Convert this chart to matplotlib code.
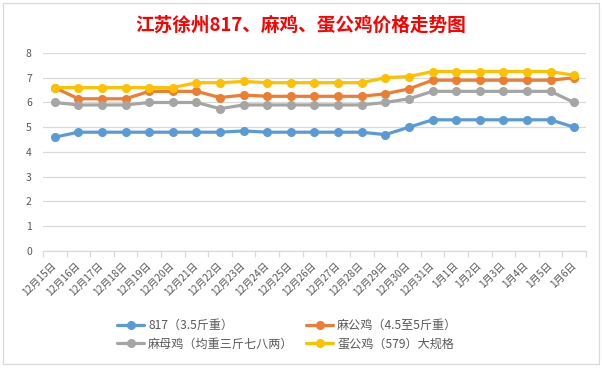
import numpy as np
import matplotlib.pyplot as plt
from matplotlib.patches import Rectangle

plt.rcParams['font.family'] = ['Noto Sans CJK SC', 'DejaVu Sans']

dates = ["12月15日", "12月16日", "12月17日", "12月18日", "12月19日", "12月20日",
         "12月21日", "12月22日", "12月23日", "12月24日", "12月25日", "12月26日",
         "12月27日", "12月28日", "12月29日", "12月30日", "12月31日",
         "1月1日", "1月2日", "1月3日", "1月4日", "1月5日", "1月6日"]

s817 = [4.6, 4.8, 4.8, 4.8, 4.8, 4.8, 4.8, 4.8, 4.85, 4.8, 4.8, 4.8,
        4.8, 4.8, 4.7, 5.0, 5.3, 5.3, 5.3, 5.3, 5.3, 5.3, 5.0]
ma_gong = [6.6, 6.15, 6.15, 6.15, 6.45, 6.45, 6.45, 6.2, 6.3, 6.25, 6.25, 6.25,
           6.25, 6.25, 6.35, 6.55, 6.9, 6.9, 6.9, 6.9, 6.9, 6.9, 7.0]
ma_mu = [6.0, 5.9, 5.9, 5.9, 6.0, 6.0, 6.0, 5.75, 5.9, 5.9, 5.9, 5.9,
         5.9, 5.9, 6.0, 6.15, 6.45, 6.45, 6.45, 6.45, 6.45, 6.45, 6.0]
dan_gong = [6.6, 6.6, 6.6, 6.6, 6.6, 6.6, 6.8, 6.8, 6.85, 6.8, 6.8, 6.8,
            6.8, 6.8, 7.0, 7.05, 7.25, 7.25, 7.25, 7.25, 7.25, 7.25, 7.1]

labels = ["817（3.5斤重）", "麻公鸡（4.5至5斤重）", "麻母鸡（均重三斤七八两）", "蛋公鸡（579）大规格"]
colors = ["#5B9BD5", "#ED7D31", "#A5A5A5", "#FFC000"]

fig = plt.figure(figsize=(6.02, 3.68), dpi=100)
ax = fig.add_axes([0.0714, 0.318, 0.902, 0.538])

x = np.arange(len(dates))
lines = []
for vals, lab, col in zip([s817, ma_gong, ma_mu, dan_gong], labels, colors):
    ln, = ax.plot(x, vals, color=col, linewidth=2.3, marker="o", markersize=5.5,
                  label=lab, solid_capstyle="round")
    lines.append(ln)

ax.set_xlim(-0.5, len(dates) - 0.5)
ax.set_ylim(0, 8)
ax.set_yticks(range(0, 9))
ax.grid(axis="y", color="#D9D9D9", linewidth=0.9)
ax.set_axisbelow(True)
for s in ["left", "right", "top"]:
    ax.spines[s].set_visible(False)
ax.spines["bottom"].set_color("#D9D9D9")
ax.spines["bottom"].set_linewidth(0.9)

ax.tick_params(axis="y", length=0, labelsize=7.5, labelcolor="#595959", pad=8)
ax.set_xticks(np.arange(-0.5, len(dates), 1.0))
ax.set_xticklabels([])
ax.set_xticks(x, minor=True)
ax.set_xticklabels(dates, minor=True, rotation=45, ha="right", va="center",
                   rotation_mode="anchor", fontsize=7.3, color="#595959")
ax.tick_params(axis="x", which="major", length=4, color="#D9D9D9", width=0.9)
ax.tick_params(axis="x", which="minor", length=0, pad=9)

fig.text(0.5, 0.932, "江苏徐州817、麻鸡、蛋公鸡价格走势图", color="red",
         fontsize=13.4, fontweight="bold", ha="center", va="center")

order = [0, 2, 1, 3]
fig.legend([lines[i] for i in order], [labels[i] for i in order], ncol=2,
           loc="center", bbox_to_anchor=(287 / 602, 0.0897), frameon=False,
           fontsize=8.7, labelcolor="#595959", handlelength=2.3,
           columnspacing=1.0, handletextpad=0.3, labelspacing=0.45,
           borderpad=0)

fig.patches.append(Rectangle((3 / 602, 4 / 368), 596 / 602, 361 / 368,
                             transform=fig.transFigure, fill=False,
                             edgecolor="#D9D9D9", linewidth=0.9))

fig.savefig("out.png", dpi=100)
